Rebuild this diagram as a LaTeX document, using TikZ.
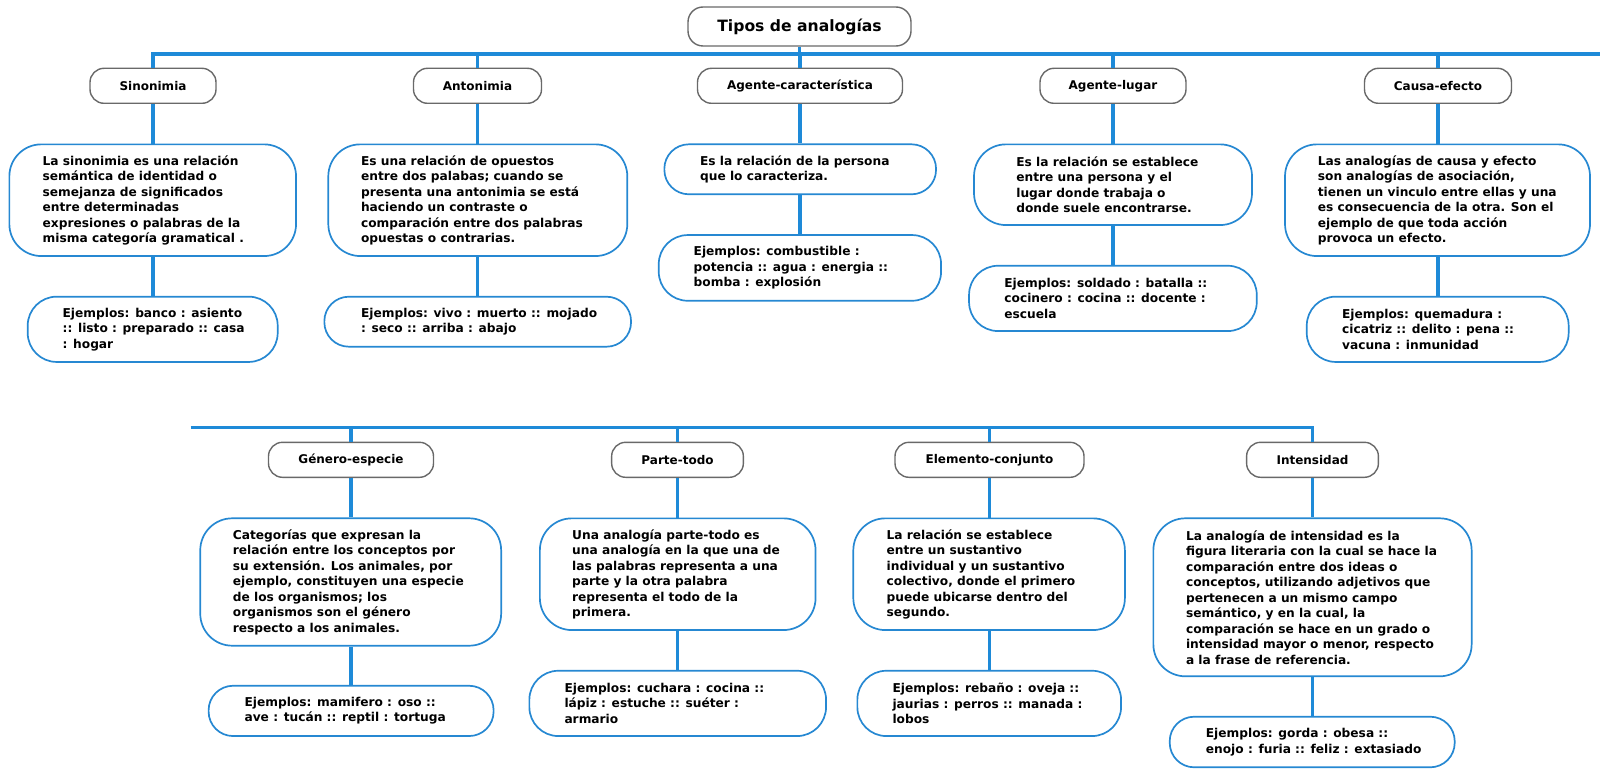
\documentclass[tikz,border=0pt]{standalone}
\usepackage{fontspec}
\setmainfont{DejaVu Sans}
\definecolor{blueline}{RGB}{30,138,216}
\definecolor{bluebox}{RGB}{38,136,210}
\definecolor{graybox}{RGB}{105,105,105}
\tikzset{
  link/.style={draw=blueline, line width=3.2pt},
  titlebox/.style={draw=graybox, line width=1.4pt, rounded corners=15pt, fill=white, inner sep=0pt,
    font=\fontsize{15.6}{18}\selectfont\bfseries},
  catbox/.style={draw=graybox, line width=1.4pt, rounded corners=14pt, fill=white, inner sep=0pt,
    minimum height=35pt, font=\fontsize{12}{14}\selectfont\bfseries},
  descbox/.style={draw=bluebox, line width=1.7pt, fill=white, inner sep=0pt},
  txt/.style={inner sep=0pt, align=left, anchor=west, font=\fontsize{12.2}{15.5}\selectfont\bfseries},
}
% name, x, y, width, height, radius, pad, text
\newcommand{\mybox}[8]{%
  \node[descbox, minimum width=#4pt, minimum height=#5pt, rounded corners=#6pt] (#1) at (#2,#3) {};
  \node[txt] (#1t) at ([xshift=#7pt]#1.west) {#8};
}
\begin{document}
\begin{tikzpicture}[x=1pt,y=-1pt]
\useasboundingbox (0,0) rectangle (1600,781);
% title
\node[titlebox, minimum width=223pt, minimum height=39pt] (title) at (799.5,26.5) {Tipos de analogías};
% top categories
\node[catbox, minimum width=126pt] (sin) at (153,85.8) {Sinonimia};
\node[catbox, minimum width=128pt] (ant) at (477.5,85.8) {Antonimia};
\node[catbox, minimum width=205pt] (agc) at (800,85.8) {Agente-característica};
\node[catbox, minimum width=146pt] (agl) at (1113,85.8) {Agente-lugar};
\node[catbox, minimum width=147pt] (cau) at (1438,85.8) {Causa-efecto};
\coordinate (topend) at (1600,54);
% top descriptions
\mybox{sind}{152.7}{200.2}{286.7}{111.7}{32}{34}{La sinonimia es una relación\\semántica de identidad o\\semejanza de significados\\entre determinadas\\expresiones o palabras de la\\misma categoría gramatical .}
\mybox{antd}{477.8}{200.2}{299}{111.7}{32}{33.4}{Es una relación de opuestos\\entre dos palabas; cuando se\\presenta una antonimia se está\\haciendo un contraste o\\comparación entre dos palabras\\opuestas o contrarias.}
\mybox{agcd}{800.2}{169.3}{271.7}{50}{24.5}{36.4}{Es la relación de la persona\\que lo caracteriza.}
\mybox{agld}{1113}{184.7}{278}{80.7}{32}{43}{Es la relación se establece\\entre una persona y el\\lugar donde trabaja o\\donde suele encontrarse.}
\mybox{caud}{1437.5}{200.2}{305}{111.7}{32}{33.5}{Las analogías de causa y efecto\\son analogías de asociación,\\tienen un vinculo entre ellas y una\\es consecuencia de la otra. Son el\\ejemplo de que toda acción\\provoca un efecto.}
% top examples
\mybox{sine}{152.7}{329.3}{250}{65.3}{29}{35.6}{Ejemplos: banco : asiento\\:: listo : preparado :: casa\\: hogar}
\mybox{ante}{477.7}{321.7}{306.7}{50}{24.5}{37.4}{Ejemplos: vivo : muerto :: mojado\\: seco :: arriba : abajo}
\mybox{agce}{799.9}{267.9}{282.3}{65.7}{29}{35.6}{Ejemplos: combustible :\\potencia :: agua : energia ::\\bomba : explosión}
\mybox{agle}{1112.9}{298.4}{287.7}{65.3}{29}{36}{Ejemplos: soldado : batalla ::\\cocinero : cocina :: docente :\\escuela}
\mybox{caue}{1437.7}{329.3}{261.9}{65.3}{29}{36}{Ejemplos: quemadura :\\cicatriz :: delito : pena ::\\vacuna : inmunidad}
% bottom categories
\node[catbox, minimum width=165pt] (gen) at (351,459.8) {Género-especie};
\node[catbox, minimum width=131.7pt] (par) at (677.5,459.8) {Parte-todo};
\node[catbox, minimum width=189pt] (ele) at (989.5,459.8) {Elemento-conjunto};
\node[catbox, minimum width=131.8pt] (int) at (1312.5,459.8) {Intensidad};
\coordinate (botstart) at (190.5,427.5);
% bottom descriptions
\mybox{gend}{350.7}{582}{300.9}{127.4}{32}{33.3}{Categorías que expresan la\\relación entre los conceptos por\\su extensión. Los animales, por\\ejemplo, constituyen una especie\\de los organismos; los\\organismos son el género\\respecto a los animales.}
\mybox{pard}{677.7}{574.2}{275.7}{111.7}{32}{33}{Una analogía parte-todo es\\una analogía en la que una de\\las palabras representa a una\\parte y la otra palabra\\representa el todo de la\\primera.}
\mybox{eled}{989.1}{574.2}{271.6}{111.7}{32}{34}{La relación se establece\\entre un sustantivo\\individual y un sustantivo\\colectivo, donde el primero\\puede ubicarse dentro del\\segundo.}
\mybox{intd}{1312.5}{597.3}{318.3}{158}{32}{33.3}{La analogía de intensidad es la\\figura literaria con la cual se hace la\\comparación entre dos ideas o\\conceptos, utilizando adjetivos que\\pertenecen a un mismo campo\\semántico, y en la cual, la\\comparación se hace en un grado o\\intensidad mayor o menor, respecto\\a la frase de referencia.}
% bottom examples
\mybox{gene}{351.1}{710.9}{285}{50.3}{24.5}{36.6}{Ejemplos: mamifero : oso ::\\ave : tucán :: reptil : tortuga}
\mybox{pare}{677.7}{703.4}{296.7}{65.3}{29}{35.8}{Ejemplos: cuchara : cocina ::\\lápiz : estuche :: suéter :\\armario}
\mybox{elee}{989.2}{703.4}{263.7}{65.3}{29}{35.8}{Ejemplos: rebaño : oveja ::\\jaurias : perros :: manada :\\lobos}
\mybox{inte}{1312.2}{742}{285}{50.6}{24.5}{36.8}{Ejemplos: gorda : obesa ::\\enojo : furia :: feliz : extasiado}
% connectors top
\draw[link] (sin.north) -- (sin.north |- topend) -- (topend);
\draw[link] (title.south) -- (title.south |- topend);
\foreach \n in {ant,agc,agl,cau} \draw[link] (\n.north) -- (\n.north |- topend);
\foreach \a/\b/\c in {sin/sind/sine,ant/antd/ante,agc/agcd/agce,agl/agld/agle,cau/caud/caue,gen/gend/gene,par/pard/pare,ele/eled/elee,int/intd/inte}{
  \draw[link] (\a.south) -- (\a.south |- \b.north);
  \draw[link] (\a.south |- \b.south) -- (\a.south |- \c.north);
}
% connectors bottom
\draw[link] (botstart) -- (botstart -| int.north) -- (int.north);
\foreach \n in {gen,par,ele} \draw[link] (\n.north) -- (\n.north |- botstart);
\end{tikzpicture}
\end{document}
